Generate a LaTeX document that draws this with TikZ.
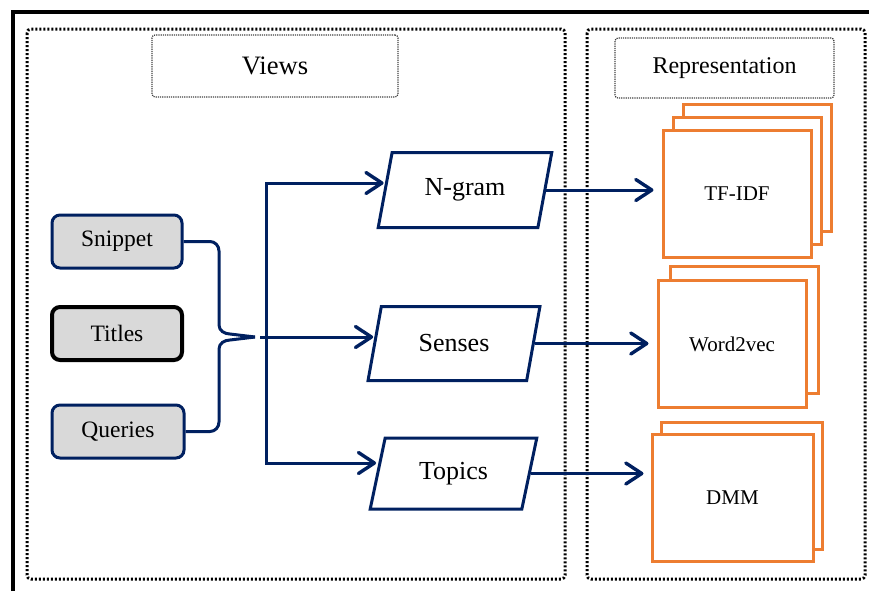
\documentclass[tikz,border=0pt]{standalone}
\usepackage{fontspec}
\setmainfont{Liberation Serif}
\usetikzlibrary{shapes.geometric,arrows.meta}

\definecolor{navy}{HTML}{002060}
\definecolor{boxgray}{HTML}{D9D9D9}
\definecolor{reporange}{HTML}{ED7D31}

\tikzset{
  panel/.style={dash pattern=on 1pt off 1pt, line width=1.5pt, rounded corners=2pt},
  heading/.style={draw=black!75, dash pattern=on 0.6pt off 0.5pt, line width=0.6pt,
    rounded corners=1.5pt},
  source/.style={draw=navy, line width=1.5pt, fill=boxgray, rounded corners=4pt,
    minimum width=65pt, minimum height=26.5pt, font=\fontsize{11.75}{14}\selectfont},
  view/.style={trapezium, trapezium left angle=76, trapezium right angle=104,
    trapezium stretches=true, draw=navy, line width=1.5pt,
    minimum width=86pt, minimum height=37pt, font=\fontsize{13}{15}\selectfont},
  rep/.style={draw=reporange, line width=1.5pt, fill=white,
    minimum width=74pt, minimum height=63.5pt, font=\fontsize{10.5}{12}\selectfont},
  link/.style={draw=navy, line width=1.5pt},
  flow/.style={link, -{Straight Barb[length=8pt,width=10.5pt,line width=1.7pt,round]}}
}

\begin{document}
\begin{tikzpicture}[x=0.5pt, y=-0.5pt]
\useasboundingbox (0,0) rectangle (869,591);

% frame and panels
\draw[line width=1.75pt] (13,591) -- (13,12) -- (869,12);
\draw[panel] (27,29) rectangle (565,579);
\draw[panel] (587,29) rectangle (865,579);

\node[heading, minimum width=123pt, minimum height=31pt, font=\fontsize{13.3}{15}\selectfont]
  (views) at (275,66) {Views};
\node[heading, minimum width=109.5pt, minimum height=30pt, font=\fontsize{12}{14}\selectfont]
  (repr) at (724.5,68) {Representation};

% sources
\node[source] (snippet) at (117,241.5) {Snippet};
\node[source, draw=black, line width=2pt] (titles) at (117,333.5) {Titles};
\node[source, minimum width=66pt] (queries) at (118,431.5) {Queries};

% views
\node[view, minimum width=87pt, minimum height=37.5pt] (ngram) at (465,190) {N-gram};
\node[view] (senses) at (454,343.5) {Senses};
\node[view, minimum width=83.5pt, minimum height=35.5pt] (topics) at (453.5,473.5) {Topics};

% representations (back sheets first)
\node[rep] (tfidf2) at (757.5,168) {};
\node[rep] (tfidf1) at (747.5,181) {};
\node[rep] (tfidf) at (737,194) {TF-IDF};

\node[rep] (wvec1) at (744.5,330) {};
\node[rep] (wvec) at (732,344) {Word2vec};

\node[rep, minimum width=80.5pt] (dmm1) at (741.5,485.5) {};
\node[rep, minimum width=80.5pt] (dmm) at (732.5,497.5) {DMM};

% brace
\coordinate (tip) at (255,337);
\draw[link] (snippet.east) -- (210,241.5) to[out=0,in=90] (219,251) -- (219,325)
  to[out=-90,in=180] (230,334) -- (tip);
\draw[link] (queries.east) -- (210,431.5) to[out=0,in=-90] (219,422) -- (219,349)
  to[out=90,in=180] (230,340) -- (tip);

% trunk
\coordinate (ttop) at (266,183);
\coordinate (tbot) at (266,463);
\coordinate (join) at (260,337);
\draw[flow] (tbot) -- (ttop) -- (ttop -| ngram.west);
\draw[flow] (ttop) -- (tbot) -- (tbot -| topics.west);
\draw[flow] (join) -- (join -| senses.west);

% outputs
\draw[flow, shorten >=4pt] (ngram.east) -- (ngram.east -| tfidf.west);
\draw[flow, shorten >=4pt] (senses.east) -- (senses.east -| wvec.west);
\draw[flow, shorten >=3.5pt] (topics.east) -- (topics.east -| dmm.west);
\end{tikzpicture}
\end{document}
